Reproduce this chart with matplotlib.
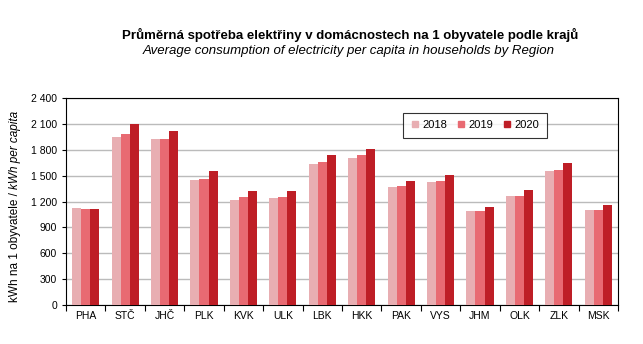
import numpy as np
import matplotlib.pyplot as plt
from matplotlib.lines import Line2D
from matplotlib.ticker import FuncFormatter, MultipleLocator

plt.rcParams['font.family'] = ['Liberation Sans', 'DejaVu Sans']

regions = ["PHA", "STČ", "JHČ", "PLK", "KVK", "ULK", "LBK", "HKK",
           "PAK", "VYS", "JHM", "OLK", "ZLK", "MSK"]
years = ["2018", "2019", "2020"]
v2018 = [1126, 1951, 1928, 1452, 1219, 1243, 1637, 1707, 1370, 1428, 1092, 1266, 1556, 1103]
v2019 = [1115, 1986, 1928, 1463, 1254, 1254, 1661, 1742, 1382, 1440, 1092, 1266, 1568, 1103]
v2020 = [1115, 2102, 2021, 1556, 1324, 1324, 1742, 1812, 1440, 1510, 1138, 1336, 1649, 1161]
colors = ["#E8AEB2", "#E86A72", "#BE1E26"]


def main():
    fig = plt.figure(figsize=(6.43, 3.44), dpi=100)
    ax = fig.add_axes([0.1026, 0.1134, 0.8585, 0.6016])

    x = np.arange(len(regions))
    w = 0.23
    for i, (vals, yr) in enumerate(zip([v2018, v2019, v2020], years)):
        ax.bar(x + (i - 1) * w, vals, width=w, color=colors[i], label=yr, zorder=3)

    ax.set_xlim(-0.5, len(regions) - 0.5)
    ax.set_ylim(0, 2400)
    ax.yaxis.set_major_locator(MultipleLocator(300))
    ax.yaxis.set_major_formatter(FuncFormatter(lambda v, p: f"{int(v):,}".replace(",", " ")))
    ax.grid(axis='y', color='#BBBBBB', linewidth=1, zorder=0)

    ax.set_xticks(x)
    ax.set_xticklabels(regions, fontsize=7.5)
    ax.tick_params(axis='x', length=0, pad=4)
    ax.set_xticks(np.arange(-0.5, len(regions)), minor=True)
    ax.tick_params(axis='x', which='minor', length=4, width=0.8, direction='out')
    ax.tick_params(axis='y', labelsize=7.5, length=3, width=0.8, direction='out')
    for s in ax.spines.values():
        s.set_color('black')
        s.set_linewidth(0.8)

    handles = [Line2D([], [], linestyle='none', marker='s', markersize=5,
                      markerfacecolor=c, markeredgecolor=c) for c in colors]
    leg = ax.legend(handles, years, loc='upper left', bbox_to_anchor=(0.611, 0.927), ncol=3,
                    fontsize=8, frameon=True, fancybox=False, edgecolor='black',
                    handlelength=0.8, handletextpad=0.3, columnspacing=0.8,
                    borderpad=0.65, borderaxespad=0)
    leg.get_frame().set_linewidth(0.8)

    fig.text(0.545, 0.898, "Průměrná spotřeba elektřiny v domácnostech na 1 obyvatele podle krajů",
             ha='center', va='center', fontsize=9.5, fontweight='bold')
    fig.text(0.543, 0.853, "Average consumption of electricity per capita in households by Region",
             ha='center', va='center', fontsize=9.5, style='italic')

    # y label: normal part + italic part
    t1 = fig.text(0.023, 0.122, "kWh na 1 obyvatele / ", rotation=90, fontsize=8.5,
                  ha='center', va='bottom')
    fig.canvas.draw()
    bb = t1.get_window_extent().transformed(fig.transFigure.inverted())
    fig.text(0.023, bb.y1, "kWh per capita", rotation=90, fontsize=8.5, style='italic',
             ha='center', va='bottom')

    fig.savefig("out.png", dpi=100)


if __name__ == '__main__':
    main()
